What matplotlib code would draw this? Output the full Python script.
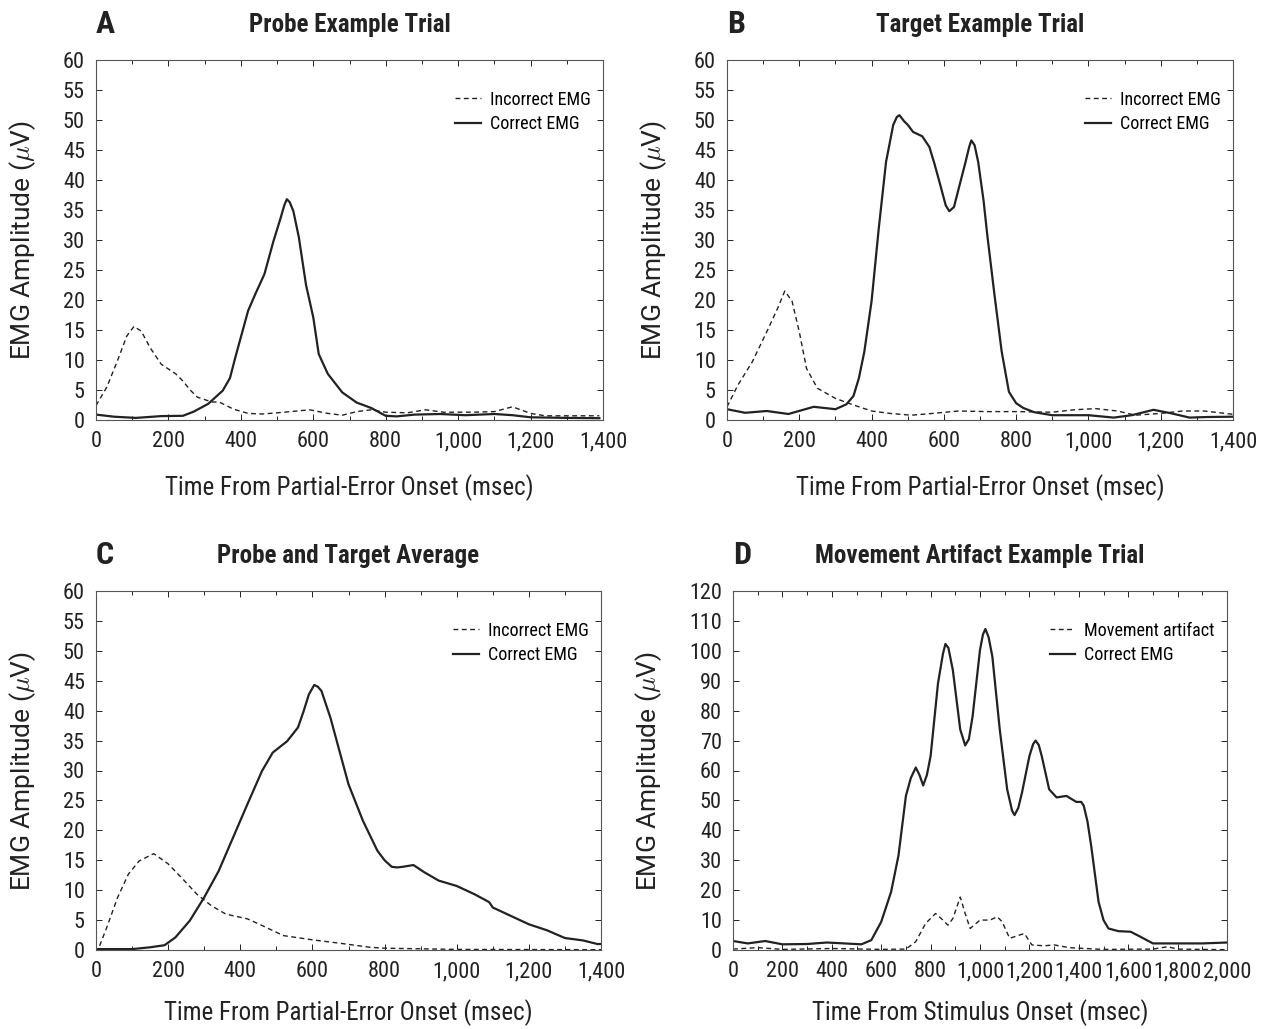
import numpy as np
import matplotlib
matplotlib.use("Agg")
import matplotlib.pyplot as plt
from matplotlib.ticker import MultipleLocator, FuncFormatter

plt.rcParams["font.family"] = ["Roboto Condensed", "Liberation Sans Narrow", "Lato", "DejaVu Sans"]
plt.rcParams["mathtext.fontset"] = "cm"

# Panel A: probe example trial
a_inc_t = [0, 30, 60, 85, 105, 125, 150, 180, 220, 240, 260, 280, 320, 340, 380, 420, 460, 520, 590,
           640, 680, 720, 760, 800, 860, 910, 960, 1040, 1100, 1150, 1200, 1240, 1300, 1390]
a_inc_v = [2.4, 5.5, 10, 14, 15.6, 14.8, 12, 9.3, 7.7, 6.5, 5, 3.8, 3, 3, 1.8, 1.1, 1, 1.3, 1.7,
           1.1, 0.8, 1.4, 1.7, 1.3, 1.2, 1.7, 1.3, 1.3, 1.4, 2.2, 1.1, 0.7, 0.7, 0.7]
a_cor_t = [0, 50, 110, 180, 240, 270, 310, 350, 370, 385, 400, 420, 440, 465, 490, 510, 520, 527,
           535, 545, 560, 580, 600, 615, 640, 680, 720, 760, 800, 830, 880, 950, 1020, 1100,
           1150, 1200, 1300, 1390]
a_cor_v = [0.9, 0.55, 0.35, 0.65, 0.7, 1.4, 2.7, 4.9, 7, 10.5, 13.8, 18.2, 21, 24.3, 29.8, 33.7, 35.8, 36.8,
           36.3, 34.8, 30.5, 22.5, 17.1, 11, 7.7, 4.6, 2.9, 2, 0.7, 0.6, 0.9, 1, 0.8, 1,
           0.8, 0.45, 0.35, 0.3]

# Panel B: target example trial
b_inc_t = [0, 30, 70, 110, 140, 160, 180, 200, 220, 250, 300, 350, 400, 450, 510, 560, 640,
           720, 800, 900, 960, 1020, 1080, 1130, 1200, 1260, 1320, 1400]
b_inc_v = [2.2, 5.8, 9.7, 14.7, 18.6, 21.5, 19.8, 14.7, 8.6, 5.3, 3.6, 2.5, 1.5, 1.1, 0.8, 1.05, 1.5,
           1.4, 1.4, 1.3, 1.7, 1.9, 1.5, 0.8, 1.1, 1.5, 1.5, 0.95]
b_cor_t = [0, 50, 110, 170, 240, 300, 330, 350, 365, 380, 400, 420, 440, 460, 470, 477, 490, 500,
           515, 540, 560, 575, 590, 605, 615, 628, 645, 660, 670, 676, 685, 695, 710, 720, 740,
           760, 780, 800, 820, 850, 900, 1000, 1070, 1120, 1180, 1230, 1280, 1330, 1400]
b_cor_v = [1.8, 1.2, 1.5, 1, 2.2, 1.8, 2.6, 4, 7, 11.4, 19.8, 32, 43, 49.2, 50.5, 50.8, 49.8, 49.2,
           48, 47.3, 45.5, 42.5, 39.2, 35.8, 34.8, 35.5, 39.5, 43, 45.5, 46.6, 45.8, 43, 36.5, 30.9, 20.9,
           11.4, 4.7, 2.8, 2, 1.3, 0.8, 0.8, 0.4, 0.8, 1.7, 1.1, 0.4, 0.5, 0.55]

# Panel C: probe and target average
c_inc_t = [10, 30, 60, 90, 120, 160, 200, 240, 280, 320, 360, 420, 460, 520, 600, 680, 760,
           800, 900, 1000, 1400]
c_inc_v = [0.7, 3.8, 8.8, 12.7, 14.9, 16.1, 14.4, 11.9, 9.3, 7.4, 6, 5.2, 4.1, 2.4, 1.7, 1.1, 0.45,
           0.3, 0.2, 0.1, 0.05]
c_cor_t = [0, 100, 150, 190, 220, 260, 300, 340, 380, 420, 460, 490, 530, 560, 575, 590, 605, 615,
           625, 650, 700, 740, 780, 800, 820, 835, 850, 880, 910, 950, 1000, 1050, 1090, 1100, 1150,
           1200, 1250, 1300, 1350, 1390, 1400]
c_cor_v = [0.15, 0.15, 0.45, 0.8, 2.1, 4.9, 8.8, 13.2, 18.8, 24.4, 29.9, 33, 34.9, 37.2, 39.8, 42.7, 44.3, 44,
           43.3, 38.8, 27.7, 21.6, 16.6, 15, 13.9, 13.8, 13.9, 14.2, 13, 11.6, 10.7, 9.3, 8, 7.1, 5.7,
           4.3, 3.3, 2, 1.6, 1, 1]

# Panel D: movement artifact example trial
d_art_t = [0, 100, 200, 400, 600, 700, 740, 780, 820, 850, 870, 890, 920, 940, 960, 1000, 1040,
           1070, 1090, 1120, 1160, 1180, 1210, 1260, 1300, 1360, 1400, 1500, 1700, 1760, 1800, 2000]
d_art_v = [0.3, 0.8, 0.2, 0.5, 0.2, 0.3, 2.8, 8.9, 12.2, 10, 8.3, 10.5, 17.7, 12.2, 7.2, 10, 10,
           11.1, 9.4, 3.9, 5, 5.5, 1.7, 1.4, 1.7, 0.8, 0.6, 0.2, 0.3, 1.1, 0.3, 0.1]
d_cor_t = [0, 60, 130, 200, 300, 380, 450, 520, 560, 600, 640, 670, 700, 720, 740, 755, 770, 785,
           800, 830, 850, 860, 872, 890, 920, 940, 955, 970, 1000, 1012, 1022, 1035, 1050, 1080,
           1110, 1130, 1140, 1155, 1170, 1200, 1215, 1225, 1238, 1250, 1280, 1310, 1350, 1390,
           1410, 1420, 1435, 1450, 1480, 1500, 1520, 1560, 1610, 1650, 1700, 1800, 1900, 2000]
d_cor_v = [3, 2.2, 3, 1.9, 2, 2.5, 2.2, 1.9, 3.3, 9.4, 19.4, 31.6, 51.5, 57.5, 61, 58.5, 55, 58.5,
           64.8, 89.2, 99, 102.3, 101, 93.6, 73.7, 68.4, 70.5, 78.1, 100.3, 105.5, 107.3, 104.5, 98.1, 73.7,
           53.7, 46.5, 45.1, 47.5, 52.6, 64.8, 68.8, 70, 68.5, 64.8, 53.7, 51, 51.5, 49.5,
           49.5, 48.2, 43, 34.9, 16.1, 10, 7.2, 6.3, 6.1, 4.4, 2.2, 2.2, 2.2, 2.5]

fig = plt.figure(figsize=(12.61, 10.29), dpi=100)

W, H = 1261, 1029


def make_axes(left, right, top, bottom):
    return fig.add_axes([left / W, 1 - bottom / H, (right - left) / W, (bottom - top) / H])


comma = FuncFormatter(lambda v, p: f"{int(v):,}")

panels = [
    ("A", "Probe Example Trial", (96, 603, 60, 420), a_inc_t, a_inc_v, a_cor_t, a_cor_v,
     "Incorrect EMG", "Time From Partial-Error Onset (msec)", 1400, 60, 5),
    ("B", "Target Example Trial", (727, 1233, 60, 420), b_inc_t, b_inc_v, b_cor_t, b_cor_v,
     "Incorrect EMG", "Time From Partial-Error Onset (msec)", 1400, 60, 5),
    ("C", "Probe and Target Average", (96, 601, 591, 950), c_inc_t, c_inc_v, c_cor_t, c_cor_v,
     "Incorrect EMG", "Time From Partial-Error Onset (msec)", 1400, 60, 5),
    ("D", "Movement Artifact Example Trial", (733, 1227, 591, 950), d_art_t, d_art_v, d_cor_t, d_cor_v,
     "Movement artifact", "Time From Stimulus Onset (msec)", 2000, 120, 10),
]

for letter, title, box, t1, v1, t2, v2, lab1, xlab, xmax, ymax, ystep in panels:
    left, right, top, bottom = box
    ax = make_axes(*box)
    ax.plot(t1, v1, color="#222222", lw=1.0, ls=(0, (3.5, 2.5)), label=lab1)
    ax.plot(t2, v2, color="#222222", lw=1.6, label="Correct EMG")
    ax.set_xlim(0, xmax)
    ax.set_ylim(0, ymax)
    ax.xaxis.set_major_locator(MultipleLocator(200))
    ax.xaxis.set_minor_locator(MultipleLocator(100))
    ax.xaxis.set_major_formatter(comma)
    ax.yaxis.set_major_locator(MultipleLocator(ystep))
    ax.tick_params(which="both", direction="in", top=True, right=True, labelsize=16,
                   length=4, width=0.7, pad=8, colors="#222222")
    ax.tick_params(which="minor", length=3)
    for s in ax.spines.values():
        s.set_linewidth(0.8)
        s.set_color("#555555")
    ax.set_xlabel(xlab, fontsize=18, labelpad=16 if top < 300 else 12, color="#222222")
    ax.set_ylabel(r"EMG Amplitude ($\mu$V)", fontsize=19, labelpad=18, color="#222222",
                  family=["Roboto", "DejaVu Sans"])
    ax.legend(loc="upper right", bbox_to_anchor=(1.0, 0.95), frameon=False, fontsize=13,
              handlelength=1.4, handletextpad=0.5, labelspacing=0.35, borderaxespad=0.3)
    fig.text(left / W, 1 - (top - 36) / H, letter, fontsize=23, fontweight="bold",
             ha="left", va="center", color="#222222")
    fig.text((left + right) / 2 / W, 1 - (top - 35) / H, title, fontsize=18, fontweight="bold",
             ha="center", va="center", color="#222222")

fig.savefig("out.png", dpi=100)
